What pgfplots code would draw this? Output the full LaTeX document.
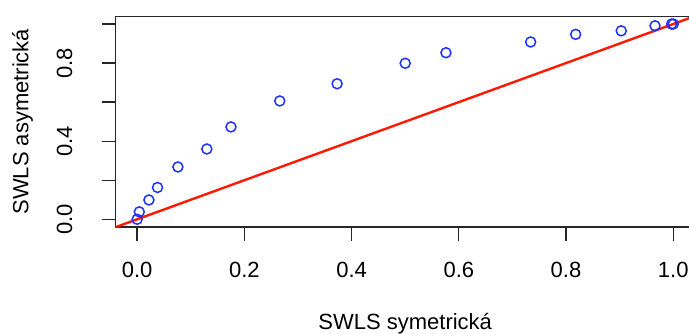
\documentclass[border=0pt]{standalone}
\usepackage{pgfplots}
\pgfplotsset{compat=1.18}
\usepackage{fontspec}
\setmainfont{Liberation Sans}

\definecolor{ptblue}{RGB}{30,50,255}
\definecolor{linered}{RGB}{255,25,0}

% SWLS: asymmetric vs. symmetric weights
\pgfplotstableread{
x      y
0.000  0.000
0.004  0.038
0.022  0.099
0.038  0.163
0.076  0.268
0.130  0.360
0.175  0.473
0.266  0.606
0.373  0.694
0.500  0.799
0.576  0.853
0.734  0.908
0.818  0.947
0.903  0.965
0.966  0.991
0.997  1.000
1.000  1.000
}\swls

\begin{document}
\begin{tikzpicture}
\begin{axis}[
  at={(0,0)}, anchor=south west,
  scale only axis,
  width=579bp, height=210.9bp,
  xmin=-0.04, xmax=1.04,
  ymin=-0.04, ymax=1.04,
  axis line style={line width=1.3bp, black!85},
  tick style={line width=1.3bp, black!85},
  tick align=outside,
  major tick length=13.5bp,
  xtick={0,0.2,0.4,0.6,0.8,1.0},
  xticklabels={0.0,0.2,0.4,0.6,0.8,1.0},
  ytick={0,0.2,0.4,0.6,0.8,1.0},
  yticklabels={0.0,,0.4,,0.8,},
  xtick pos=bottom, ytick pos=left,
  tick label style={font=\fontsize{22bp}{26bp}\selectfont},
  xticklabel style={anchor=base, yshift=-36.5bp},
  yticklabel style={rotate=90, anchor=base},
  yticklabel shift=30bp,
  xlabel={SWLS symetrická},
  ylabel={SWLS asymetrická},
  every axis x label/.style={at={(axis description cs:0.5,-0.4855)}, anchor=base,
    font=\fontsize{22bp}{26bp}\selectfont},
  every axis y label/.style={at={(axis description cs:-0.1506,0.5)}, anchor=base,
    rotate=90, font=\fontsize{22bp}{26bp}\selectfont},
  clip=true,
]
\addplot[linered, line width=2.4bp] coordinates {(-0.1,-0.1) (1.1,1.1)};
\addplot[only marks, mark=o, mark size=5bp,
  mark options={ptblue, line width=1.5bp}] table[x=x, y=y] {\swls};
\end{axis}
\pgfresetboundingbox
\path[use as bounding box] (-115.7bp,-106.9bp) rectangle (573.3bp,227.1bp);
\end{tikzpicture}
\end{document}
